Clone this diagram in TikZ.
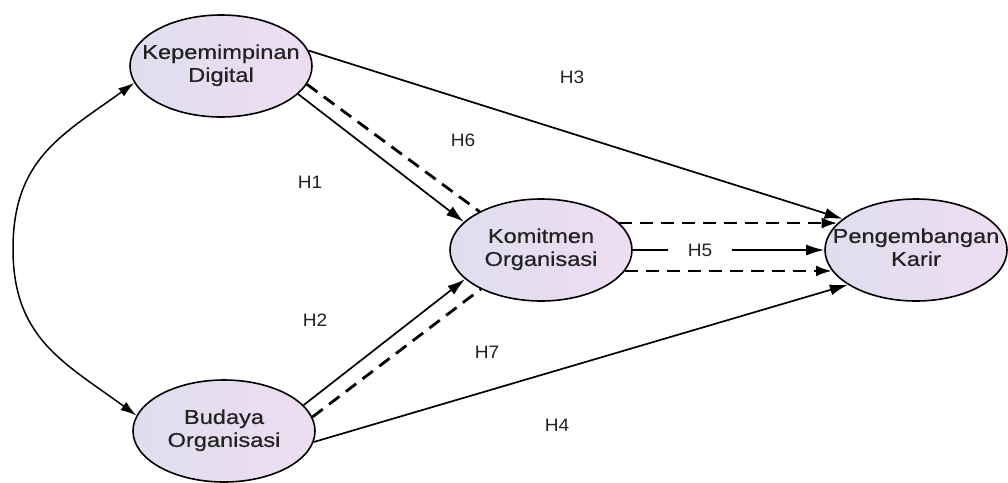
\documentclass[tikz,border=0pt]{standalone}
\usepackage{fontspec}
\setmainfont{Liberation Sans}
\newfontfamily\constructfont[FakeStretch=1.18,FakeBold=0.6]{Liberation Sans}
\newfontfamily\hypfont[FakeStretch=1.06]{Liberation Sans}
\usetikzlibrary{shapes.geometric,arrows.meta}

% two centred lines of text that take no room, so every ellipse keeps its set size
\newcommand\twolines[2]{\makebox[0pt][c]{\raisebox{-5pt}[0pt][0pt]{\begin{tabular}{@{}c@{}}#1\\#2\end{tabular}}}}

\definecolor{fillL}{HTML}{DFDEEE}
\definecolor{fillR}{HTML}{EEDDF2}
\definecolor{ink}{HTML}{222222}

\begin{document}
\begin{tikzpicture}[x=1pt,y=-1pt,
  construct/.style={ellipse, draw=black, line width=1.6pt,
    minimum width=182pt, minimum height=102pt, inner sep=0pt,
    left color=fillL, right color=fillR, text=ink,
    font=\constructfont\fontsize{20}{23}\selectfont},
  link/.style={line width=1.7pt, -{Latex[length=18pt,width=11pt]}},
  dlink/.style={line width=2.8pt, dash pattern=on 13pt off 8pt},
  dlinkarrow/.style={dlink, -{Latex[length=16pt,width=11pt]}},
  hyp/.style={font=\hypfont\fontsize{18}{20}\selectfont, text=ink, inner sep=1pt}
]
\fill[white] (0,0) rectangle (1008,482);
\useasboundingbox (0,0) rectangle (1008,482);

% constructs
\node[construct] (KD) at (221,66)  {\twolines{Kepemimpinan}{Digital}};
\node[construct] (BO) at (224,431) {\twolines{Budaya}{Organisasi}};
\node[construct] (KO) at (541,250) {\twolines{Komitmen}{Organisasi}};
\node[construct] (PK) at (916,250) {\twolines{Pengembangan}{Karir}};

% correlation between the two exogenous constructs
\coordinate (bend) at (13,249);
\draw[line width=1.5pt, {Latex[length=16pt,width=10pt]}-{Latex[length=16pt,width=10pt]}]
  (KD.191) .. controls (62,135) and (13,159) .. (bend)
           .. controls (13,339) and (65,363) .. (BO.170);

% direct paths
\draw[link] (KD.-20) -- (KO.160);
\draw[link] (BO.18)  -- (KO.201);
\draw[link] (KD.10)  -- (PK.157);
\draw[link] (BO.-7)  -- (PK.207);
\draw[link] (KO.0)   -- (PK.180);

% mediated paths
\draw[dlink] (KD.-12) -- (KO.148);
\draw[dlink] (BO.9)   -- (KO.213);
\draw[dlinkarrow] (KO.19)  -- (PK.161);
\draw[dlinkarrow] (KO.-14) -- (PK.194);

% hypothesis labels
\node[hyp] (h1) at (310,182) {H1};
\node[hyp] (h2) at (315,320) {H2};
\node[hyp] (h3) at (572,77)  {H3};
\node[hyp] (h4) at (557,425) {H4};
\node[hyp, fill=white, inner xsep=20pt, inner ysep=2pt] (h5) at (700,250) {H5};
\node[hyp] (h6) at (463,140) {H6};
\node[hyp] (h7) at (487,352) {H7};
\end{tikzpicture}
\end{document}
